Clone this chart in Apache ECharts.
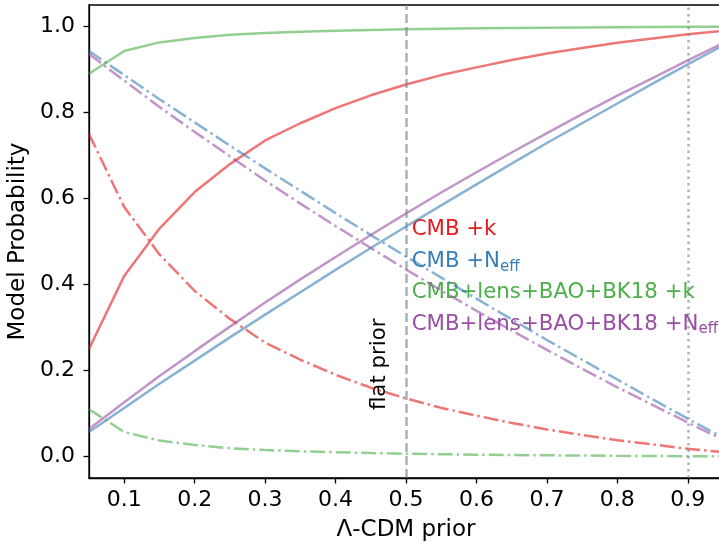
<!DOCTYPE html>
<html>
<head>
<meta charset="utf-8">
<script src="https://cdn.jsdelivr.net/npm/echarts@6/dist/echarts.min.js"></script>
<style>
  html, body { margin: 0; padding: 0; background: #fff; }
  #chart { width: 719px; height: 543px; }
</style>
</head>
<body>
<div id="chart"></div>
<script>
  // x: Lambda-CDM prior
  var priors = [0.05, 0.1, 0.15, 0.2, 0.25, 0.3, 0.35, 0.4, 0.45, 0.5,
                0.55, 0.6, 0.65, 0.7, 0.75, 0.8, 0.85, 0.9, 0.95];

  // CMB +k
  var cmbK = [0.25, 0.42, 0.53, 0.615, 0.68, 0.735, 0.775, 0.81, 0.84, 0.865,
              0.887, 0.905, 0.922, 0.937, 0.95, 0.962, 0.972, 0.982, 0.99];
  var cmbKExt = [0.75, 0.58, 0.47, 0.385, 0.32, 0.265, 0.225, 0.19, 0.16, 0.135,
                 0.113, 0.095, 0.078, 0.063, 0.05, 0.038, 0.028, 0.018, 0.01];
  // CMB +Neff
  var cmbN = [0.057, 0.113, 0.169, 0.223, 0.277, 0.330, 0.382, 0.434, 0.485, 0.535,
              0.584, 0.633, 0.681, 0.729, 0.775, 0.821, 0.867, 0.912, 0.956];
  var cmbNExt = [0.943, 0.887, 0.831, 0.777, 0.723, 0.670, 0.618, 0.566, 0.515, 0.465,
                 0.416, 0.367, 0.319, 0.271, 0.225, 0.179, 0.133, 0.088, 0.044];
  // CMB+lens+BAO+BK18 +k
  var fullK = [0.89, 0.943, 0.963, 0.973, 0.981, 0.985, 0.988, 0.99, 0.992, 0.9935,
               0.9947, 0.9957, 0.9965, 0.9972, 0.9978, 0.9984, 0.9988, 0.9993, 0.9996];
  var fullKExt = [0.11, 0.057, 0.037, 0.027, 0.019, 0.015, 0.012, 0.01, 0.008, 0.0065,
                  0.0053, 0.0043, 0.0035, 0.0028, 0.0022, 0.0016, 0.0012, 0.0007, 0.0004];
  // CMB+lens+BAO+BK18 +Neff
  var fullN = [0.064, 0.126, 0.187, 0.245, 0.302, 0.358, 0.412, 0.464, 0.515, 0.565,
               0.614, 0.661, 0.707, 0.752, 0.796, 0.839, 0.880, 0.921, 0.961];
  var fullNExt = [0.936, 0.874, 0.813, 0.755, 0.698, 0.642, 0.588, 0.536, 0.485, 0.435,
                  0.386, 0.339, 0.293, 0.248, 0.204, 0.161, 0.120, 0.079, 0.039];

  var xTicks = [0.1, 0.2, 0.3, 0.4, 0.5, 0.6, 0.7, 0.8, 0.9];
  var yTicks = [0, 0.2, 0.4, 0.6, 0.8, 1.0];

  var labelNames = ['CMB +k', 'CMB +N', 'CMB+lens+BAO+BK18 +k', 'CMB+lens+BAO+BK18 +N'];
  var labelSubs = ['', 'eff', '', 'eff'];
  var labelColors = ['#e41a1c', '#377eb8', '#4daf4a', '#984ea3'];
  var labelX = 0.508;
  var labelY = [0.529, 0.454, 0.382, 0.308];

  var lineColors = ['rgba(228,26,28,0.6)', 'rgba(55,126,184,0.6)', 'rgba(77,175,74,0.6)', 'rgba(152,78,163,0.6)'];
  var FONT = 'DejaVu Sans';

  function pairs(ys) {
    return ys.map(function (y, i) { return [priors[i], y]; });
  }

  var dashDot = [15, 4, 2.5, 4];
  var solidSets = [cmbK, cmbN, fullK, fullN];
  var extSets = [cmbKExt, cmbNExt, fullKExt, fullNExt];

  var series = [];
  solidSets.forEach(function (d, i) {
    series.push({
      type: 'line', data: pairs(d), symbol: 'none', animation: false,
      lineStyle: { color: lineColors[i], width: 2.5 }
    });
    series.push({
      type: 'line', data: pairs(extSets[i]), symbol: 'none', animation: false,
      lineStyle: { color: lineColors[i], width: 2.5, type: dashDot }
    });
  });
  // flat prior and reference lines
  series.push({
    type: 'line', data: [], animation: false,
    markLine: {
      symbol: 'none', silent: true, label: { show: false },
      data: [
        { xAxis: 0.5, lineStyle: { color: 'rgba(112,128,144,0.6)', width: 2.5, type: [9, 4] } },
        { xAxis: 0.9, lineStyle: { color: 'rgba(112,128,144,0.6)', width: 2.5, type: [2.5, 4] } }
      ]
    }
  });

  var chart = echarts.init(document.getElementById('chart'));
  chart.setOption({
    backgroundColor: '#fff',
    textStyle: { fontFamily: FONT },
    grid: {
      left: 89, top: 5, right: -4, bottom: 65,
      containLabel: false, outerBoundsMode: 'none',
      show: true, borderColor: '#000', borderWidth: 1.3, backgroundColor: 'transparent'
    },
    xAxis: {
      type: 'value', min: 0.05, max: 0.95,
      name: 'Λ-CDM prior', nameLocation: 'middle', nameGap: 41,
      nameTextStyle: { fontSize: 23, color: '#000', fontFamily: FONT },
      axisLine: { show: true, onZero: false, lineStyle: { color: '#000', width: 1.3 } },
      axisTick: { show: true, length: 5.5, customValues: xTicks, lineStyle: { color: '#000', width: 1.3 } },
      axisLabel: {
        customValues: xTicks, fontSize: 22, color: '#000', margin: 11, fontFamily: FONT,
        formatter: function (v) { return v.toFixed(1); }
      },
      splitLine: { show: false }
    },
    yAxis: {
      type: 'value', min: -0.05, max: 1.05,
      name: 'Model Probability', nameLocation: 'middle', nameGap: 57, nameRotate: 90,
      nameTextStyle: { fontSize: 23, color: '#000', fontFamily: FONT },
      axisLine: { show: true, onZero: false, lineStyle: { color: '#000', width: 1.3 } },
      axisTick: { show: true, length: 5.5, customValues: yTicks, lineStyle: { color: '#000', width: 1.3 } },
      axisLabel: {
        customValues: yTicks, fontSize: 22, color: '#000', margin: 14, fontFamily: FONT,
        formatter: function (v) { return v.toFixed(1); }
      },
      splitLine: { show: false }
    },
    series: series
  });

  // annotations placed through the axes
  var graphics = [];
  labelNames.forEach(function (name, i) {
    var p = chart.convertToPixel({ gridIndex: 0 }, [labelX, labelY[i]]);
    var txt = labelSubs[i] ? '{m|' + name + '}{s|' + labelSubs[i] + '}' : '{m|' + name + '}';
    graphics.push({
      type: 'text', x: p[0], y: p[1], silent: true,
      style: {
        text: txt, fill: labelColors[i], align: 'left', verticalAlign: 'middle',
        fontFamily: FONT, fontSize: 21.3,
        rich: {
          m: { fontSize: 21.3, fontFamily: FONT, fill: labelColors[i], lineHeight: 26, verticalAlign: 'middle' },
          s: { fontSize: 15, fontFamily: FONT, fill: labelColors[i], lineHeight: 26, verticalAlign: 'bottom', padding: [10, 0, 0, 0] }
        }
      }
    });
  });
  var fp = chart.convertToPixel({ gridIndex: 0 }, [0.463, 0.108]);
  graphics.push({
    type: 'text', x: fp[0], y: fp[1], rotation: Math.PI / 2, silent: true,
    style: { text: 'flat prior', fill: '#000', fontFamily: FONT, fontSize: 21.3, align: 'left', verticalAlign: 'middle' }
  });
  chart.setOption({ graphic: graphics });
</script>
</body>
</html>
